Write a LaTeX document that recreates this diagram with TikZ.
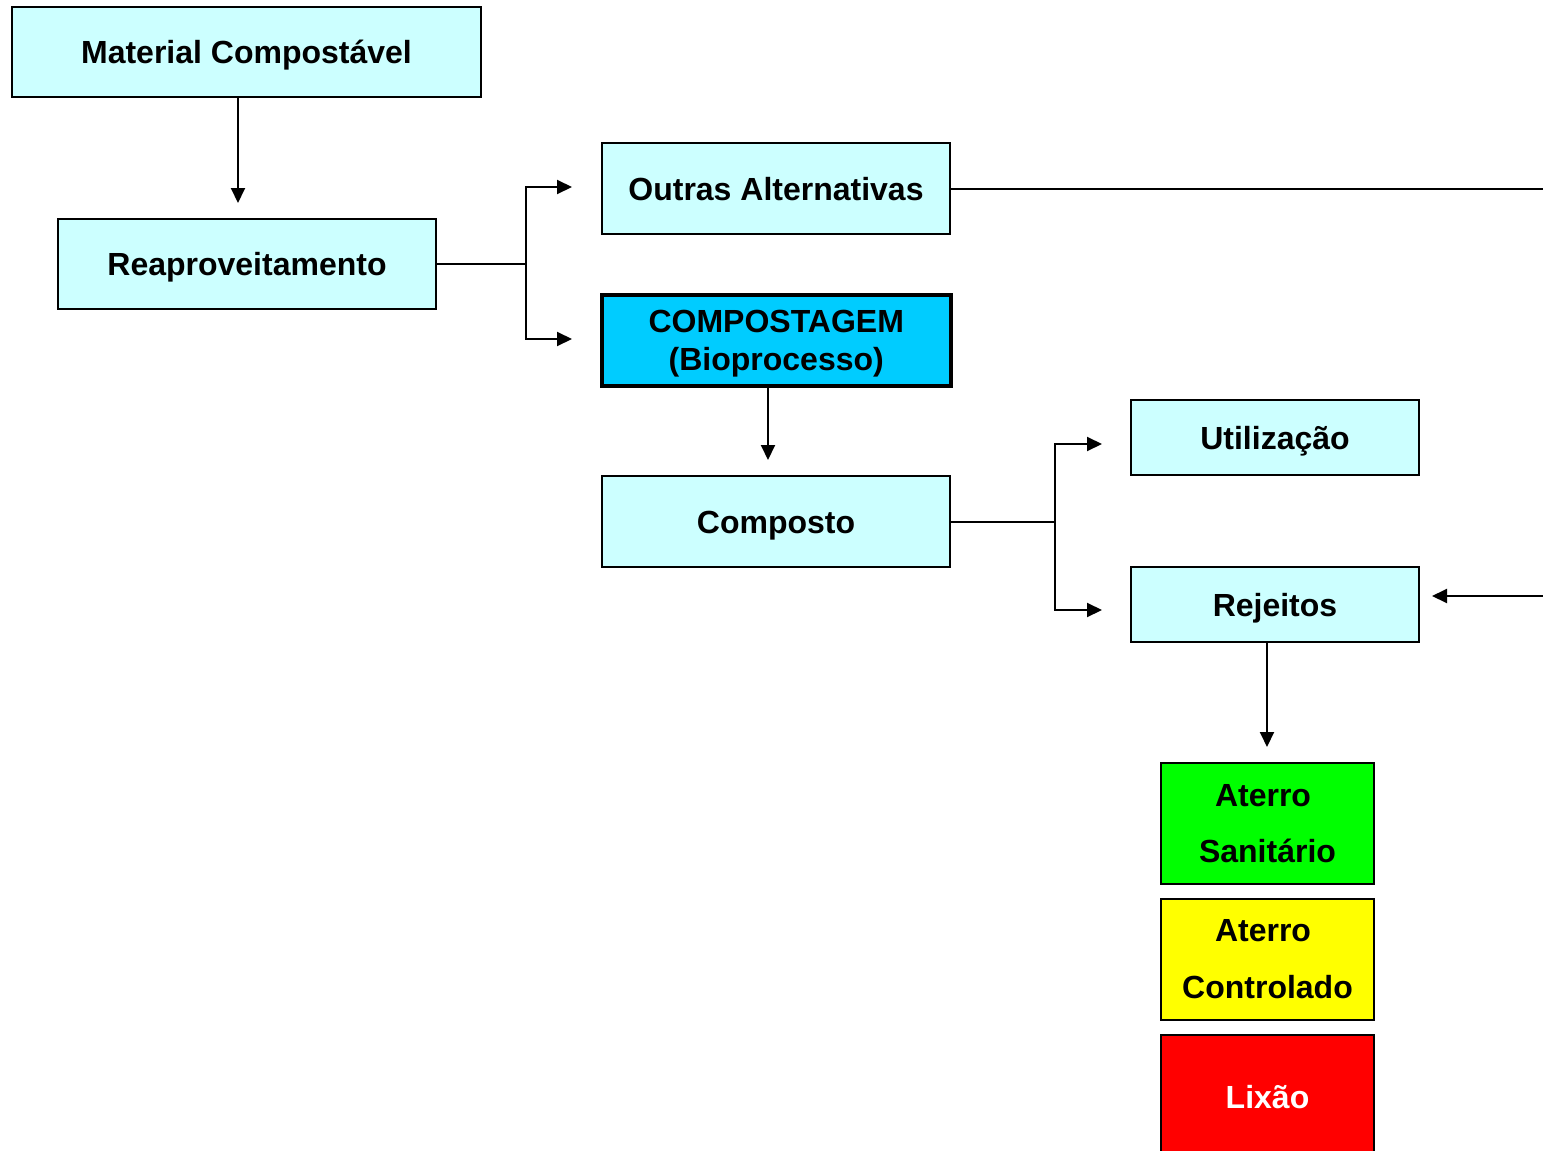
\documentclass[tikz,border=0pt]{standalone}
\usepackage{fontspec}
\setmainfont{Liberation Sans}
\usetikzlibrary{arrows.meta}
\definecolor{lcyan}{HTML}{CCFFFF}
\definecolor{bcyan}{HTML}{00CCFF}
\definecolor{bgreen}{HTML}{00FF00}
\definecolor{byellow}{HTML}{FFFF00}
\definecolor{bred}{HTML}{FF0000}
\tikzset{
  box/.style={draw=black, line width=2pt, inner sep=0pt, anchor=north west, align=center,
    font=\fontsize{32}{38}\selectfont\bfseries},
  oneline/.style={text height=23pt, text depth=0pt},
  lbox/.style={box, fill=lcyan, oneline},
  conn/.style={line width=2pt},
  arr/.style={line width=2pt, -{Triangle[length=15pt,width=14pt]}},
}
\begin{document}
\begin{tikzpicture}[x=1pt,y=-1pt]
\useasboundingbox (0,0) rectangle (1543,1151);
\clip (0,0) rectangle (1543,1151);
\node[lbox, minimum width=469pt, minimum height=90pt] (mat) at (11,6) {Material Compostável};
\node[lbox, minimum width=378pt, minimum height=90pt] (rea) at (57,218) {Reaproveitamento};
\node[lbox, minimum width=348pt, minimum height=91pt] (out) at (601,142) {Outras Alternativas};
\node[box, fill=bcyan, line width=3.5pt, minimum width=349pt, minimum height=91pt] (comp) at (600,293) {\rule{0pt}{29pt}COMPOSTAGEM\\(Bioprocesso)};
\node[lbox, minimum width=348pt, minimum height=91pt] (cpt) at (601,475) {Composto};
\node[lbox, minimum width=288pt, minimum height=75pt] (uti) at (1130,399) {Utilização};
\node[lbox, minimum width=288pt, minimum height=75pt] (rej) at (1130,566) {Rejeitos};
\node[box, fill=bgreen, minimum width=213pt, minimum height=121pt, font=\fontsize{32}{56}\selectfont\bfseries] (san) at (1160,762) {Aterro\hspace*{9pt}\\Sanitário};
\node[box, fill=byellow, minimum width=213pt, minimum height=121pt, font=\fontsize{32}{57}\selectfont\bfseries] (con) at (1160,898) {Aterro\hspace*{9pt}\\Controlado};
\node[box, fill=bred, text=white, minimum width=213pt, minimum height=124pt] (lix) at (1160,1034) {Lixão};
% connectors
\draw[arr] (mat.south -| 238,0) -- (238,203);
\draw[conn] (rea.east) -- ++(89,0) coordinate (j1);
\draw[arr] (j1) |- (572,187);
\draw[arr] (j1) |- (572,339);
\draw[arr] (comp.south -| 768,0) -- (768,460);
\draw[conn] (cpt.east) -- ++(104,0) coordinate (j2);
\draw[arr] (j2) |- (1102,444);
\draw[arr] (j2) |- (1102,610);
\draw[conn] (out.east) -- ++(620,0) coordinate (e1);
\coordinate (e2) at (1560,596);
\draw[arr] (e2) -- (1432,596);
\draw[arr] (rej.south -| 1267,0) -- (1267,747);
\end{tikzpicture}
\end{document}
